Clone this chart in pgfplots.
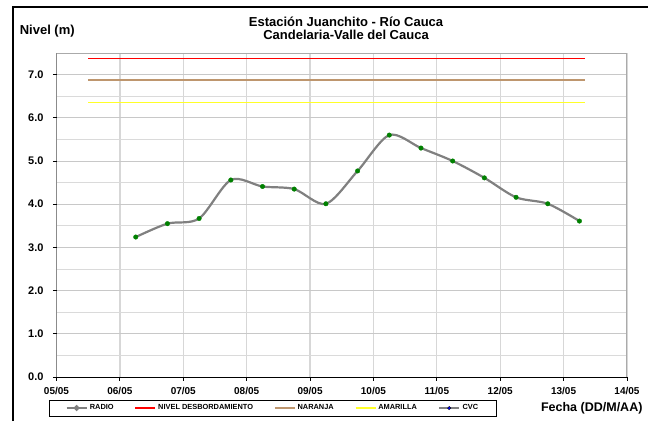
\documentclass[border=0pt]{standalone}
\usepackage{pgfplots}
\pgfplotsset{compat=1.18}
\usepackage{fontspec}
\setmainfont{Liberation Sans}
\definecolor{naranja}{RGB}{190,150,110}
\definecolor{amarilla}{RGB}{255,255,40}
\definecolor{gridmaj}{RGB}{200,200,200}
\definecolor{gridmin}{RGB}{218,218,218}
\definecolor{gridv}{RGB}{215,215,215}
\definecolor{bordergray}{RGB}{170,170,170}
\definecolor{curvegray}{RGB}{128,128,128}
\definecolor{markgreen}{RGB}{0,128,0}
\begin{document}
\begin{tikzpicture}[x=1pt,y=1pt]
\useasboundingbox (0,0) rectangle (648,-421);
\draw[line width=2.6pt] (13,-421) -- (13,-7) -- (648,-7);
\begin{axis}[
  at={(56.5pt,-377pt)}, anchor=south west,
  scale only axis, width=570.5pt, height=324pt,
  xmin=0, xmax=9, ymin=0, ymax=7.5,
  axis line style={draw=none},
  xtick={0,1,...,9},
  xticklabels={05/05,06/05,07/05,08/05,09/05,10/05,11/05,12/05,13/05,14/05},
  ytick={0,1,...,7},
  yticklabels={0.0,1.0,2.0,3.0,4.0,5.0,6.0,7.0},
  minor ytick={0.5,1.5,...,7.5},
  xtick pos=left, ytick pos=left,
  tick align=outside, major tick length=3.5pt, minor tick length=0pt,
  tick style={black, line width=0.8pt},
  grid=both,
  major grid style={gridmaj, line width=1pt},
  minor grid style={gridmin, line width=1pt},
  x grid style={gridv, line width=1.3pt},
  xticklabel style={font=\bfseries\fontsize{10}{12}\selectfont, yshift=-3pt},
  yticklabel style={font=\bfseries\fontsize{11}{12}\selectfont, xshift=-6pt},
  title={Estación Juanchito - Río Cauca\\Candelaria-Valle del Cauca},
  title style={at={(axis description cs:0.5075,1.0571)}, anchor=center, align=center,
    font=\bfseries\fontsize{13}{13}\selectfont},
  ylabel={Nivel (m)},
  ylabel style={at={(axis description cs:-0.0705,1.068)}, anchor=west, rotate=-90,
    font=\bfseries\fontsize{13}{14}\selectfont},
  xlabel={Fecha (DD/M/AA)},
  xlabel style={at={(axis description cs:1.0333,-0.0957)}, anchor=east,
    font=\bfseries\fontsize{12.5}{14}\selectfont},
  legend columns=5,
  legend style={at={(0.379,0)}, anchor=north, yshift=-23pt,
    font=\bfseries\fontsize{7.4}{8}\selectfont,
    inner xsep=16pt, inner ysep=2.5pt,
    /tikz/every even column/.append style={column sep=19pt}},
]
\addplot[curvegray, line width=2.2pt, smooth, mark=*, mark size=2.3pt,
  mark options={fill=markgreen, draw=markgreen, solid, line width=0.3pt},
  legend image code/.code={
    \draw[draw=curvegray, line width=2.6pt] (0pt,0pt) -- (20pt,0pt);
    \fill[fill=markgreen] (10pt,0pt) circle (1.7pt);}]
  coordinates {
  (1.25,3.24) (1.75,3.55) (2.25,3.67) (2.75,4.56) (3.25,4.41) (3.75,4.35)
  (4.25,4.01) (4.75,4.77) (5.25,5.60) (5.75,5.30) (6.25,5.00) (6.75,4.61)
  (7.25,4.16) (7.75,4.01) (8.25,3.61)};
\addlegendentry{RADIO}
\addplot[red, line width=1.5pt,
  legend image code/.code={\draw[draw=red, line width=1.5pt] (0pt,0pt) -- (20pt,0pt);}]
  coordinates {(0.5,7.37) (8.34,7.37)};
\addlegendentry{NIVEL DESBORDAMIENTO}
\addplot[naranja, line width=1.5pt,
  legend image code/.code={\draw[draw=naranja, line width=1.5pt] (0pt,0pt) -- (20pt,0pt);}]
  coordinates {(0.5,6.87) (8.34,6.87)};
\addlegendentry{NARANJA}
\addplot[amarilla, line width=1.5pt,
  legend image code/.code={\draw[draw=amarilla, line width=1.5pt] (0pt,0pt) -- (20pt,0pt);}]
  coordinates {(0.5,6.36) (8.34,6.36)};
\addlegendentry{AMARILLA}
\addlegendimage{legend image code/.code={
    \draw[draw=curvegray, line width=2.6pt] (0pt,0pt) -- (20pt,0pt);
    \fill[fill=blue] (10pt,0pt) circle (1.7pt);}}
\addlegendentry{CVC}
\draw[bordergray, line width=1.8pt] (axis cs:0,7.5) -- (axis cs:9,7.5) -- (axis cs:9,0);
\draw[black, line width=1pt] (axis cs:0,7.5) -- (axis cs:0,0) -- (axis cs:9,0);
\end{axis}
\end{tikzpicture}
\end{document}
